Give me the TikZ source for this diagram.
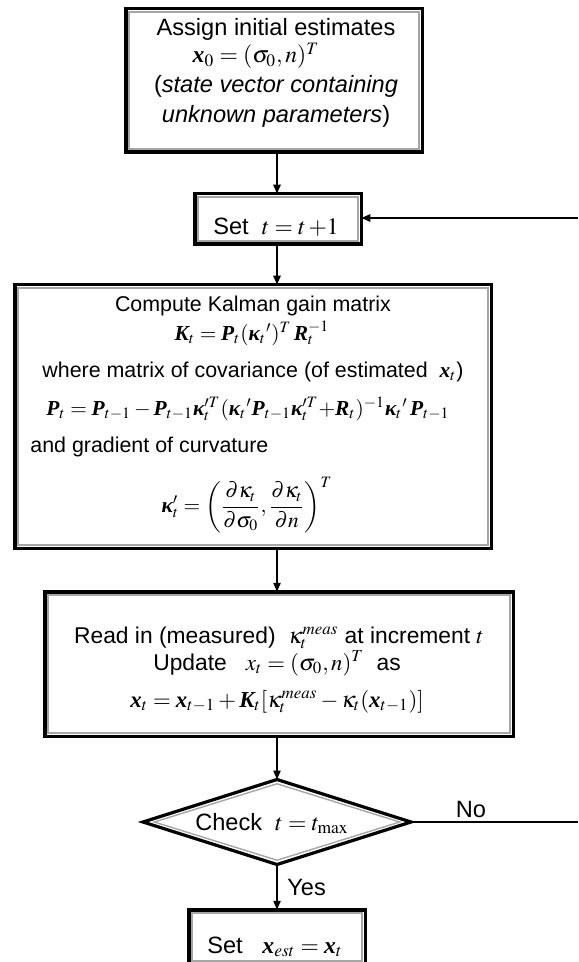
\documentclass[tikz,border=0pt]{standalone}
\usepackage{amsmath}
\usepackage{mathptmx}
\usepackage[no-math]{fontspec}
\setmainfont{Liberation Sans}
\newfontfamily\tserif{Liberation Serif}
\newcommand\bv[1]{\text{\tserif\bfseries\itshape #1}}
\usetikzlibrary{arrows.meta,fit,shapes.geometric}
\tikzset{
  boxo/.style={draw=black, line width=1.75pt, inner sep=0pt, outer sep=0pt},
  innerl/.style={draw=gray!70, line width=0.7pt},
  arr/.style={line width=1pt, -{Triangle[length=4.5pt,width=3.6pt]}},
  thinl/.style={line width=0.7pt},
  txt/.style={anchor=base, inner sep=0pt, font=\fontsize{11.4}{13}\selectfont},
  txtb/.style={txt, font=\fontsize{11.8}{14}\selectfont},
  txts/.style={txt, font=\fontsize{10.7}{13}\selectfont},
}
\newcommand\fbx[5]{%
  \node[boxo, fit={(#2+1.75,#3+1.75)(#4-1.75,#5-1.75)}] (#1) {};
  \draw[innerl] ([shift={(3.4,3.4)}]#1.north west) rectangle ([shift={(-3.4,-3.4)}]#1.south east);
}
\begin{document}
\begin{tikzpicture}[x=0.5pt,y=-0.5pt]
\useasboundingbox (0,0) rectangle (578,962);
\coordinate (spine) at (277,0);
% box 1
\fbx{b1}{124}{7}{424}{154}
\node[txtb] (t11) at (276,36) {Assign initial estimates};
\node[txtb] (t12) at (256,63) {$\bv{x}_0 = (\sigma_0, n)^T$};
\node[txtb] (t13) at (276,93) {(\textit{state vector containing}};
\node[txtb] (t14) at (276,123) {\textit{unknown parameters})};
% box 2
\fbx{b2}{193}{192}{363}{246}
\node[txtb] (t2) at (276,235) {Set\ \ $t = t\,{+}1$};
% box 3
\fbx{b3}{13}{283}{493}{550}
\node[txts] (t31) at (253,312) {Compute Kalman gain matrix};
\node[txts] (t32) at (252,340) {$\bv{K}_t = \bv{P}_t({\bv{κ}_t}')^T\,\bv{R}_t^{-1}$};
\node[txts] (t33) at (253,377) {where matrix of covariance (of estimated\ \ $\bv{x}_t$)};
\node[txts] (t34) at (248,415) {$\bv{P}_t = \bv{P}_{t-1} - \bv{P}_{t-1}\bv{κ}_t^{\prime T}({\bv{κ}_t}'\bv{P}_{t-1}\bv{κ}_t^{\prime T}{+}\bv{R}_t)^{-1}{\bv{κ}_t}'\,\bv{P}_{t-1}$};
\node[txts, anchor=base west] (t35) at (30,452) {and gradient of curvature};
\node[txts, anchor=center] (t36) at (247,505) {$\bv{κ}_t' = \left(\dfrac{\partial\kappa_t}{\partial\sigma_0}, \dfrac{\partial\kappa_t}{\partial n}\right)^{T}$};
% box 4
\fbx{b4}{43}{590}{515}{738}
\node[txt] (t41) at (279,643) {Read in (measured)\ \ $\kappa_t^{meas}$ at increment $t$};
\node[txt] (t42) at (277,670) {Update\ \ \ $x_t = (\sigma_0, n)^T$\ \ as};
\node[txt] (t43) at (277,707) {$\bv{x}_t = \bv{x}_{t-1} + \bv{K}_t[\kappa_t^{meas} - \kappa_t(\bv{x}_{t-1})]$};
% diamond
\node[diamond, draw=black, line width=1.6pt, inner sep=0pt, outer sep=0pt,
      minimum width=134pt, minimum height=42.5pt] (dia) at (277,822) {};
\node[diamond, innerl, inner sep=0pt, minimum width=123pt, minimum height=38.5pt] (diai) at (277,822) {};
\node[txtb] (t5) at (272,830) {Check\ \ $t = t_{\max}$};
% box 5
\fbx{b5}{187}{908}{367}{966}
\node[txtb] (t6) at (275,953) {Set\ \ \ $\bv{x}_{est} = \bv{x}_t$};
% connectors
\draw[arr] (spine |- b1.south) -- (spine |- b2.north);
\draw[arr] (spine |- b2.south) -- (spine |- b3.north);
\draw[arr] (spine |- b3.south) -- (spine |- b4.north);
\draw[arr] (spine |- b4.south) -- (dia.north);
\draw[arr] (dia.south) -- (spine |- b5.north);
\coordinate (rt) at (578,218);
\draw[arr] (rt) -- (rt -| b2.east);
\coordinate (noend) at (578,822);
\draw[thinl] (dia.east) -- (noend);
\node[txtb] (no) at (471,817) {No};
\node[txtb, anchor=base west] (yes) at (287,895) {Yes};
\end{tikzpicture}
\end{document}
